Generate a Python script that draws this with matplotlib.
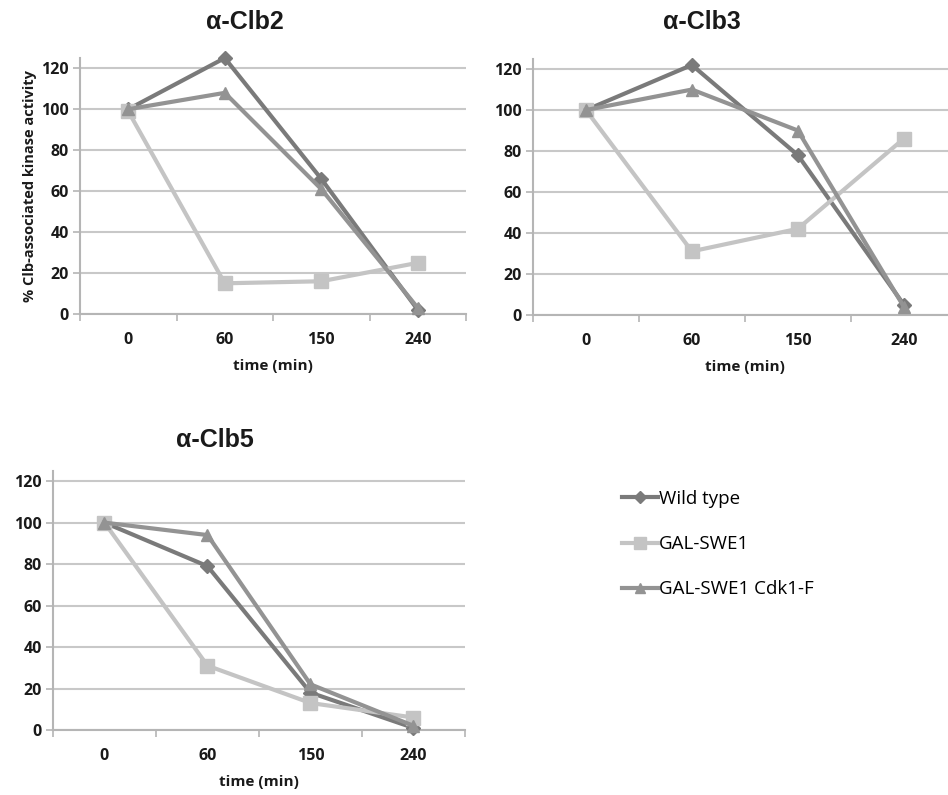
import matplotlib
matplotlib.use("Agg")
import matplotlib.pyplot as plt
from matplotlib.lines import Line2D

categories = ["0", "60", "150", "240"]
series_names = ["Wild type", "GAL-SWE1", "GAL-SWE1 Cdk1-F"]

clb2_wt = [100, 125, 66, 2]
clb2_gal = [99, 15, 16, 25]
clb2_cdk = [100, 108, 61, 3]

clb3_wt = [100, 122, 78, 5]
clb3_gal = [100, 31, 42, 86]
clb3_cdk = [100, 110, 90, 4]

clb5_wt = [100, 79, 18, 1]
clb5_gal = [100, 31, 13, 6]
clb5_cdk = [100, 94, 22, 2]

yticks = [0, 20, 40, 60, 80, 100, 120]

colors = ["#7a7a7a", "#c4c4c4", "#939393"]
markers = ["D", "s", "^"]
msizes = [7, 10, 9]

FONT = "Open Sans"

fig = plt.figure(figsize=(9.48, 7.95), dpi=100)

def panel(rect, title, data, ylabel=None, title_xy=None):
    ax = fig.add_axes(rect)
    x = list(range(len(categories)))
    for vals, c, m, ms in zip(data, colors, markers, msizes):
        ax.plot(x, vals, color=c, lw=3, marker=m, markersize=ms,
                markerfacecolor=c, markeredgecolor=c, zorder=3, clip_on=False)
    ax.set_xlim(-0.5, len(categories) - 0.5)
    ax.set_ylim(0, 125)
    ax.set_yticks(yticks)
    ax.set_yticklabels([str(v) for v in yticks], fontsize=11.5, fontweight="bold",
                       family=FONT, color="#1a1a1a")
    ax.set_xticks(x)
    ax.set_xticklabels(categories, fontsize=11.5, fontweight="bold", family=FONT,
                       color="#1a1a1a")
    ax.tick_params(axis="x", length=0, pad=13)
    ax.set_xticks([i + 0.5 for i in range(-1, len(categories))], minor=True)
    ax.tick_params(axis="x", which="minor", length=5, color="#b5b5b5", width=1.2)
    ax.tick_params(axis="y", length=5, color="#b5b5b5", width=1.2, pad=3)
    ax.grid(axis="y", color="#c8c8c8", lw=1.5)
    ax.set_axisbelow(True)
    for s in ["top", "right"]:
        ax.spines[s].set_visible(False)
    for s in ["left", "bottom"]:
        ax.spines[s].set_color("#b5b5b5")
        ax.spines[s].set_linewidth(1.5)
    ax.set_xlabel("time (min)", fontsize=11, fontweight="bold", family=FONT,
                  color="#1a1a1a", labelpad=8)
    if ylabel:
        ax.set_ylabel(ylabel, fontsize=10.5, fontweight="bold", family=FONT,
                      color="#1a1a1a", labelpad=3)
    fig.text(title_xy[0], title_xy[1], title, fontsize=18, fontweight="bold",
             family="Liberation Sans", ha="center", va="center", color="#1a1a1a")
    return ax

panel([0.0844, 0.605, 0.4072, 0.322], "α-Clb2",
      [clb2_wt, clb2_gal, clb2_cdk],
      ylabel="% Clb-associated kinase activity", title_xy=(245 / 948, 1 - 22 / 795))
panel([0.5622, 0.604, 0.447, 0.322], "α-Clb3",
      [clb3_wt, clb3_gal, clb3_cdk], title_xy=(702 / 948, 1 - 22 / 795))
panel([0.0559, 0.0818, 0.4346, 0.326], "α-Clb5",
      [clb5_wt, clb5_gal, clb5_cdk], title_xy=(215 / 948, 1 - 440 / 795))

handles = [Line2D([0], [0], color=c, lw=3, marker=m, markersize=ms * 0.85,
                  markerfacecolor=c, markeredgecolor=c)
           for c, m, ms in zip(colors, markers, msizes)]
fig.legend(handles, series_names, loc="upper left",
           bbox_to_anchor=(605 / 948, 1 - 473 / 795), frameon=False,
           prop={"family": FONT, "size": 13.5}, handlelength=1.9,
           handletextpad=0.1, labelspacing=1.45)

fig.savefig("out.png", dpi=100)
